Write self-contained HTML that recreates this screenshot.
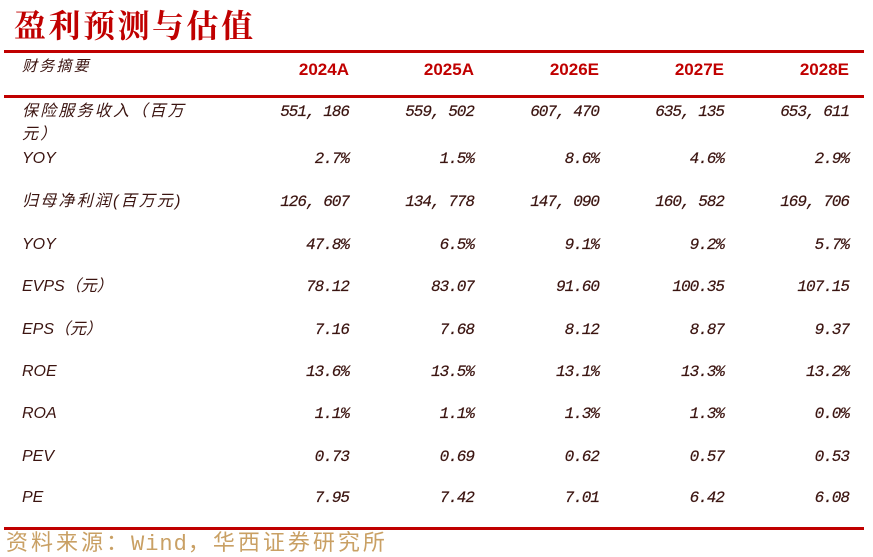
<!DOCTYPE html>
<html><head><meta charset="utf-8"><style>
body{margin:0;width:873px;height:553px;background:#fff;position:relative;overflow:hidden;font-family:"Liberation Sans","Noto Sans CJK SC",sans-serif}
.t{position:absolute;left:14px;top:1px;font-size:32px;font-weight:bold;color:#c00000;font-family:"Noto Serif CJK SC","Noto Sans CJK SC",serif;letter-spacing:2.5px}
.line{position:absolute;left:4px;width:860px;background:#c00000}
.c{position:absolute;font-size:16px;font-style:italic;color:#3b1410;white-space:nowrap;line-height:20px}
.l{left:22px}
.s{letter-spacing:2.2px}
.r{text-align:right;width:120px;font-family:"Liberation Mono",monospace;font-size:16px;letter-spacing:-1px;-webkit-text-stroke:0.2px #3b1410}
.h{position:absolute;font-size:17px;font-weight:bold;color:#c00000;text-align:right;width:120px;top:60px}
.src{position:absolute;left:6px;top:525px;font-size:22px;color:#c9a064;letter-spacing:3px;font-family:"Noto Sans CJK SC",sans-serif}
.src span{font-family:"Liberation Mono",monospace;letter-spacing:1px}
</style></head><body>
<div class="t">盈利预测与估值</div>
<div class="line" style="top:50px;height:3px"></div>
<div class="line" style="top:95px;height:3px"></div>
<div class="line" style="top:527px;height:3px"></div>
<div class="c l s" style="top:57px;font-size:15px">财务摘要</div>
<div class="h" style="left:229px">2024A</div>
<div class="h" style="left:354px">2025A</div>
<div class="h" style="left:479px">2026E</div>
<div class="h" style="left:604px">2027E</div>
<div class="h" style="left:729px">2028E</div>

<div class="c l s" style="top:102px">保险服务收入（百万</div>
<div class="c l s" style="top:125px">元）</div>
<div class="c r" style="left:229px;top:102px">551, 186</div><div class="c r" style="left:354px;top:102px">559, 502</div><div class="c r" style="left:479px;top:102px">607, 470</div><div class="c r" style="left:604px;top:102px">635, 135</div><div class="c r" style="left:729px;top:102px">653, 611</div>

<div class="c l" style="top:149px">YOY</div>
<div class="c r" style="left:229px;top:149px">2.7%</div><div class="c r" style="left:354px;top:149px">1.5%</div><div class="c r" style="left:479px;top:149px">8.6%</div><div class="c r" style="left:604px;top:149px">4.6%</div><div class="c r" style="left:729px;top:149px">2.9%</div>

<div class="c l s" style="top:192px">归母净利润(百万元)</div>
<div class="c r" style="left:229px;top:192px">126, 607</div><div class="c r" style="left:354px;top:192px">134, 778</div><div class="c r" style="left:479px;top:192px">147, 090</div><div class="c r" style="left:604px;top:192px">160, 582</div><div class="c r" style="left:729px;top:192px">169, 706</div>

<div class="c l" style="top:235px">YOY</div>
<div class="c r" style="left:229px;top:235px">47.8%</div><div class="c r" style="left:354px;top:235px">6.5%</div><div class="c r" style="left:479px;top:235px">9.1%</div><div class="c r" style="left:604px;top:235px">9.2%</div><div class="c r" style="left:729px;top:235px">5.7%</div>

<div class="c l" style="top:277px">EVPS（元）</div>
<div class="c r" style="left:229px;top:277px">78.12</div><div class="c r" style="left:354px;top:277px">83.07</div><div class="c r" style="left:479px;top:277px">91.60</div><div class="c r" style="left:604px;top:277px">100.35</div><div class="c r" style="left:729px;top:277px">107.15</div>

<div class="c l" style="top:320px">EPS（元）</div>
<div class="c r" style="left:229px;top:320px">7.16</div><div class="c r" style="left:354px;top:320px">7.68</div><div class="c r" style="left:479px;top:320px">8.12</div><div class="c r" style="left:604px;top:320px">8.87</div><div class="c r" style="left:729px;top:320px">9.37</div>

<div class="c l" style="top:362px">ROE</div>
<div class="c r" style="left:229px;top:362px">13.6%</div><div class="c r" style="left:354px;top:362px">13.5%</div><div class="c r" style="left:479px;top:362px">13.1%</div><div class="c r" style="left:604px;top:362px">13.3%</div><div class="c r" style="left:729px;top:362px">13.2%</div>

<div class="c l" style="top:404px">ROA</div>
<div class="c r" style="left:229px;top:404px">1.1%</div><div class="c r" style="left:354px;top:404px">1.1%</div><div class="c r" style="left:479px;top:404px">1.3%</div><div class="c r" style="left:604px;top:404px">1.3%</div><div class="c r" style="left:729px;top:404px">0.0%</div>

<div class="c l" style="top:447px">PEV</div>
<div class="c r" style="left:229px;top:447px">0.73</div><div class="c r" style="left:354px;top:447px">0.69</div><div class="c r" style="left:479px;top:447px">0.62</div><div class="c r" style="left:604px;top:447px">0.57</div><div class="c r" style="left:729px;top:447px">0.53</div>

<div class="c l" style="top:488px">PE</div>
<div class="c r" style="left:229px;top:488px">7.95</div><div class="c r" style="left:354px;top:488px">7.42</div><div class="c r" style="left:479px;top:488px">7.01</div><div class="c r" style="left:604px;top:488px">6.42</div><div class="c r" style="left:729px;top:488px">6.08</div>

<div class="src">资料来源：<span>Wind</span>，华西证券研究所</div>
</body></html>
